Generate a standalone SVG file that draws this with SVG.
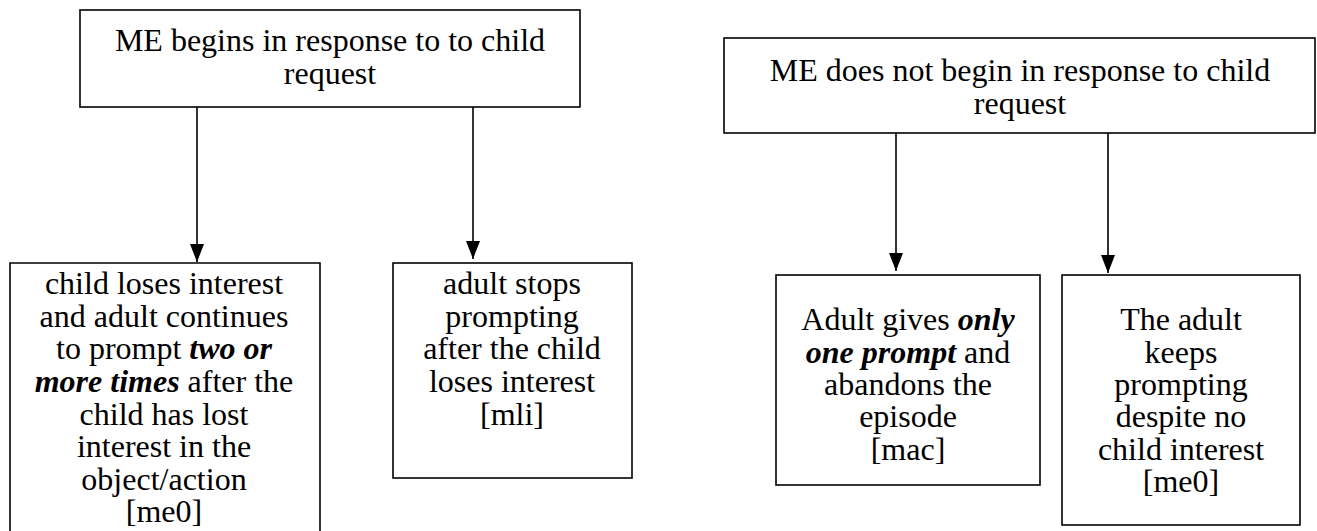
<svg xmlns="http://www.w3.org/2000/svg" width="1317" height="531" viewBox="0 0 1317 531">
<defs>
<style>
.box{fill:#fff;stroke:#000;stroke-width:1.6}
.t{font-family:"Liberation Serif","Times New Roman",serif;font-size:32px;fill:#000;text-anchor:middle}
.bi{font-weight:bold;font-style:italic}
.c{stroke:#000;stroke-width:1.6;fill:none}
</style>
<marker id="ah" markerWidth="18" markerHeight="14" refX="18" refY="7" orient="auto" markerUnits="userSpaceOnUse" viewBox="0 0 18 14">
<path d="M0,0 L18,7 L0,14 Z" fill="#000"/>
</marker>
</defs>
<rect width="1317" height="531" fill="#fff"/>
<g id="connectors">
<line class="c" x1="197" y1="107" x2="197" y2="262" marker-end="url(#ah)"/>
<line class="c" x1="473" y1="105" x2="473" y2="259" marker-end="url(#ah)"/>
<line class="c" x1="896" y1="133" x2="896" y2="271" marker-end="url(#ah)"/>
<line class="c" x1="1108" y1="133" x2="1108" y2="273" marker-end="url(#ah)"/>
</g>
<g id="n1">
<rect class="box" x="80" y="10" width="500" height="97"/>
<text class="t" x="330" y="51">ME begins in response to to child</text>
<text class="t" x="330" y="84">request</text>
</g>
<g id="n2">
<path class="box" d="M10,540 V263 H320 V540"/>
<text class="t" x="164" y="294">child loses interest</text>
<text class="t" x="164" y="327">and adult continues</text>
<text class="t" x="164" y="359">to prompt <tspan class="bi">two or</tspan></text>
<text class="t" x="164" y="392"><tspan class="bi">more times</tspan> after the</text>
<text class="t" x="164" y="425">child has lost</text>
<text class="t" x="164" y="457">interest in the</text>
<text class="t" x="164" y="490">object/action</text>
<text class="t" x="164" y="522">[me0]</text>
</g>
<g id="n3">
<rect class="box" x="393" y="263" width="239" height="215"/>
<text class="t" x="512" y="294">adult stops</text>
<text class="t" x="512" y="327">prompting</text>
<text class="t" x="512" y="359">after the child</text>
<text class="t" x="512" y="392">loses interest</text>
<text class="t" x="512" y="425">[mli]</text>
</g>
<g id="n4">
<rect class="box" x="724" y="38" width="591" height="95"/>
<text class="t" x="1020" y="81">ME does not begin in response to child</text>
<text class="t" x="1020" y="114">request</text>
</g>
<g id="n5">
<rect class="box" x="776" y="275" width="264" height="210"/>
<text class="t" x="908" y="330">Adult gives <tspan class="bi">only</tspan></text>
<text class="t" x="908" y="363"><tspan class="bi">one prompt</tspan> and</text>
<text class="t" x="908" y="395">abandons the</text>
<text class="t" x="908" y="427">episode</text>
<text class="t" x="908" y="460">[mac]</text>
</g>
<g id="n6">
<rect class="box" x="1062" y="275" width="238" height="250"/>
<text class="t" x="1181" y="330">The adult</text>
<text class="t" x="1181" y="363">keeps</text>
<text class="t" x="1181" y="395">prompting</text>
<text class="t" x="1181" y="427">despite no</text>
<text class="t" x="1181" y="460">child interest</text>
<text class="t" x="1181" y="492">[me0]</text>
</g>
</svg>
